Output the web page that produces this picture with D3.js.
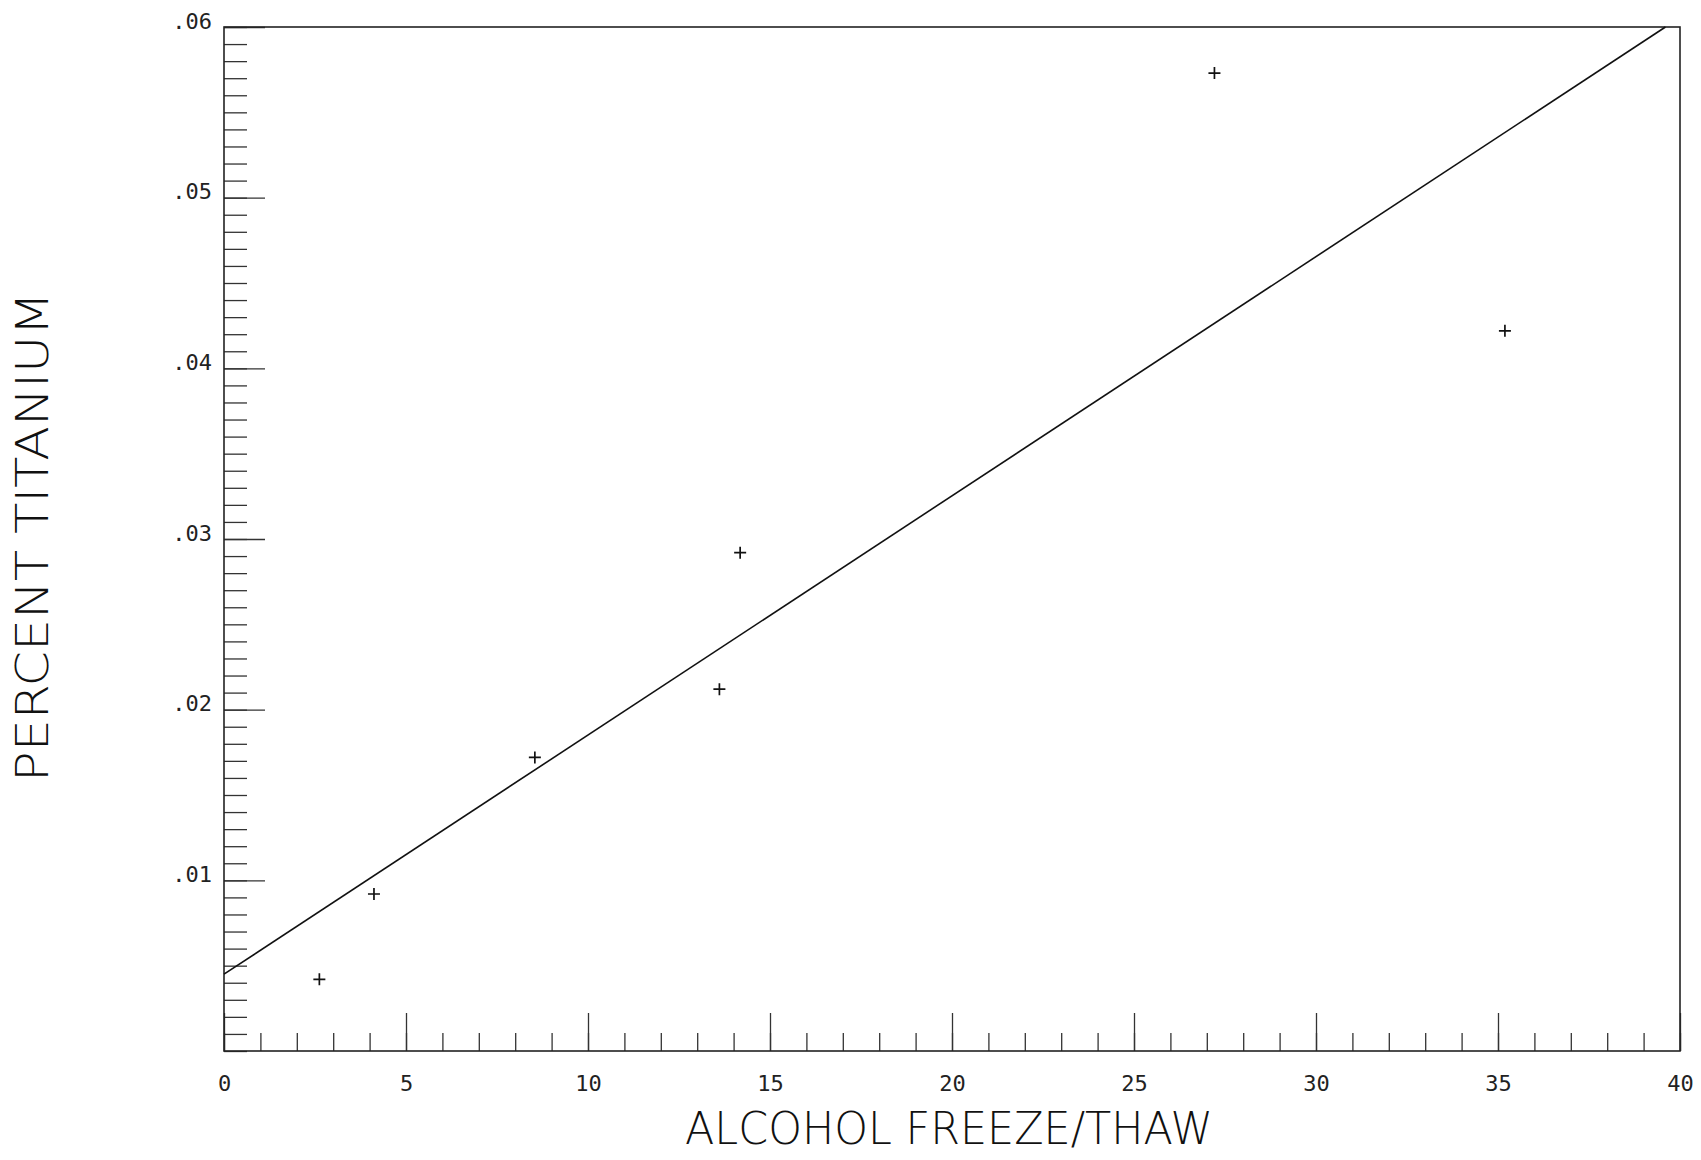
<!DOCTYPE html>
<html>
<head>
<meta charset="utf-8">
<script src="https://cdn.jsdelivr.net/npm/d3@7"></script>
<style>
  body { margin: 0; background: #fff; }
  svg { display: block; }
  text { font-family: "DejaVu Sans", "Liberation Sans", sans-serif; font-weight: 200; fill: #111; }
</style>
</head>
<body>
<svg id="chart" width="1701" height="1160"></svg>
<script>
// measured points (alcohol freeze/thaw cycles vs percent titanium)
const freezeThaw = [2.62, 4.12, 8.54, 13.61, 14.18, 27.21, 35.19]
const titanium = [0.0042, 0.0092, 0.0172, 0.0212, 0.0292, 0.0573, 0.0422]

// fitted line, as drawn (clipped at the top of the frame)
const fitX = [0, 39.6]
const fitY = [0.0045, 0.06]

const xMajor = [0, 5, 10, 15, 20, 25, 30, 35, 40]
const xMinor = d3.range(0, 41, 1)
const yMajor = [0.01, 0.02, 0.03, 0.04, 0.05, 0.06]
const yMinor = d3.range(0, 61, 1).map(d => d / 1000)

const xTitle = 'ALCOHOL FREEZE/THAW'
const yTitle = 'PERCENT TITANIUM'

const svg = d3.select('#chart')
const plotLeft = 224, plotRight = 1680, plotTop = 27, plotBottom = 1051

const x = d3.scaleLinear().domain([0, 40]).range([plotLeft, plotRight])
const y = d3.scaleLinear().domain([0, 0.06]).range([plotBottom, plotTop])

// minor ticks first, majors on top
svg.append('g')
	.attr('transform', `translate(0,${plotBottom})`)
	.call(d3.axisBottom(x).tickValues(xMinor).tickSize(-18).tickFormat(''))
	.call(g => g.select('.domain').remove())

svg.append('g')
	.attr('class', 'x-major')
	.attr('transform', `translate(0,${plotBottom})`)
	.call(d3.axisBottom(x).tickValues(xMajor).tickSize(-38).tickPadding(24).tickFormat(d3.format('d')))
	.call(g => g.select('.domain').remove())

svg.append('g')
	.attr('transform', `translate(${plotLeft},0)`)
	.call(d3.axisLeft(y).tickValues(yMinor).tickSize(-23).tickFormat(''))
	.call(g => g.select('.domain').remove())

svg.append('g')
	.attr('class', 'y-major')
	.attr('transform', `translate(${plotLeft},0)`)
	.call(d3.axisLeft(y).tickValues(yMajor).tickSize(-41).tickPadding(12)
		.tickFormat(d => d3.format('.2f')(d).replace(/^0/, '')))
	.call(g => g.select('.domain').remove())

svg.selectAll('.tick line')
	.attr('stroke', '#333')
	.attr('stroke-width', 1.3)

// plotter labels are fixed pitch, so a mono face fits them better
// (style, not attr, so the css rule above does not win)
svg.selectAll('.tick text')
	.style('font-family', '"DejaVu Sans Mono", "Liberation Mono", monospace')
	.style('font-weight', 400)
	.style('font-size', '22px')
	.style('fill', '#222')

// y labels sit with their baseline on the tick
svg.selectAll('.y-major .tick text').attr('dy', '0.05em')

// frame
svg.append('rect')
	.attr('x', plotLeft)
	.attr('y', plotTop)
	.attr('width', plotRight - plotLeft)
	.attr('height', plotBottom - plotTop)
	.attr('fill', 'none')
	.attr('stroke', '#222')
	.attr('stroke-width', 1.6)

// fitted line
const fit = fitX.map((d, i) => [d, fitY[i]])
svg.append('path')
	.datum(fit)
	.attr('fill', 'none')
	.attr('stroke', '#111')
	.attr('stroke-width', 1.6)
	.attr('d', d3.line().x(d => x(d[0])).y(d => y(d[1])))

// plus markers
const pts = freezeThaw.map((d, i) => ({ x: d, y: titanium[i] }))
const s = 6
svg.append('g')
	.selectAll('path')
	.data(pts)
	.join('path')
	.attr('fill', 'none')
	.attr('stroke', '#111')
	.attr('stroke-width', 1.7)
	.attr('d', d => {
		const cx = x(d.x), cy = y(d.y)
		return `M ${cx - s} ${cy} L ${cx + s} ${cy} M ${cx} ${cy - s} L ${cx} ${cy + s}`
	})

// axis titles
svg.append('text')
	.attr('x', 949)
	.attr('y', 1144)
	.attr('text-anchor', 'middle')
	.attr('font-size', 44)
	.attr('textLength', 528)
	.attr('lengthAdjust', 'spacingAndGlyphs')
	.text(xTitle)

svg.append('text')
	.attr('transform', 'translate(48,537) rotate(-90)')
	.attr('text-anchor', 'middle')
	.attr('font-size', 45)
	.attr('textLength', 490)
	.attr('lengthAdjust', 'spacingAndGlyphs')
	.text(yTitle)
</script>
</body>
</html>
